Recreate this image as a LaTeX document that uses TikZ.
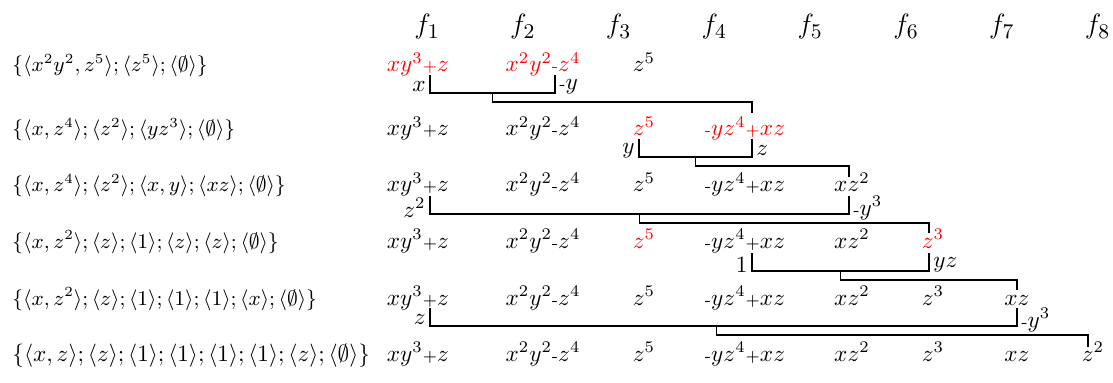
\documentclass[tikz,border=0pt]{standalone}
\usetikzlibrary{calc}
\newcommand{\pl}{{\scriptstyle+}}
\newcommand{\mi}{\mbox{\scriptsize-}}

\begin{document}
\begin{tikzpicture}[x=0.43pt,y=-0.43pt,
  term/.style={anchor=base,inner sep=1pt},
  hot/.style={term,text=red},
  head/.style={anchor=base,font=\fontsize{13pt}{15pt}\selectfont},
  ideal/.style={anchor=base west,inner sep=0pt,font=\fontsize{8.7pt}{10pt}\selectfont},
  link/.style={thick}]
\useasboundingbox (0,0) rectangle (1113,383);
% column heads
\foreach \i in {1,...,8}
  \node[head] (f\i) at ({427+95.8*(\i-1)},34) {$f_{\i}$};
% ideals on the left
\node[ideal] (g1) at (12,72) {$\{\langle x^2y^2,z^5\rangle;\langle z^5\rangle;\langle\emptyset\rangle\}$};
\node[ideal] (g2) at (12,136) {$\{\langle x,z^4\rangle;\langle z^2\rangle;\langle yz^3\rangle;\langle\emptyset\rangle\}$};
\node[ideal] (g3) at (12,192) {$\{\langle x,z^4\rangle;\langle z^2\rangle;\langle x,y\rangle;\langle xz\rangle;\langle\emptyset\rangle\}$};
\node[ideal] (g4) at (12,248) {$\{\langle x,z^2\rangle;\langle z\rangle;\langle 1\rangle;\langle z\rangle;\langle z\rangle;\langle\emptyset\rangle\}$};
\node[ideal] (g5) at (12,305) {$\{\langle x,z^2\rangle;\langle z\rangle;\langle 1\rangle;\langle 1\rangle;\langle 1\rangle;\langle x\rangle;\langle\emptyset\rangle\}$};
\node[ideal,font=\normalsize] (g6) at (12,361) {$\{\langle x,z\rangle;\langle z\rangle;\langle 1\rangle;\langle 1\rangle;\langle 1\rangle;\langle 1\rangle;\langle z\rangle;\langle\emptyset\rangle\}$};
% row 1
\node[hot] (t11) at (418,72) {$xy^3\pl z$};
\node[hot] (t12) at (543,72) {$x^2y^2\mi z^4$};
\node[term] (t13) at (644,72) {$z^5$};
% row 2
\node[term] (t21) at (418,136) {$xy^3\pl z$};
\node[term] (t22) at (543,136) {$x^2y^2\mi z^4$};
\node[hot] (t23) at (644,136) {$z^5$};
\node[hot] (t24) at (745,136) {$\mi yz^4\pl xz$};
% row 3
\node[term] (t31) at (418,192) {$xy^3\pl z$};
\node[term] (t32) at (543,192) {$x^2y^2\mi z^4$};
\node[term] (t33) at (644,192) {$z^5$};
\node[term] (t34) at (745,192) {$\mi yz^4\pl xz$};
\node[term] (t35) at (852,192) {$xz^2$};
% row 4
\node[term] (t41) at (418,248) {$xy^3\pl z$};
\node[term] (t42) at (543,248) {$x^2y^2\mi z^4$};
\node[hot] (t43) at (644,248) {$z^5$};
\node[term] (t44) at (745,248) {$\mi yz^4\pl xz$};
\node[term] (t45) at (852,248) {$xz^2$};
\node[hot] (t46) at (933,248) {$z^3$};
% row 5
\node[term] (t51) at (418,305) {$xy^3\pl z$};
\node[term] (t52) at (543,305) {$x^2y^2\mi z^4$};
\node[term] (t53) at (644,305) {$z^5$};
\node[term] (t54) at (745,305) {$\mi yz^4\pl xz$};
\node[term] (t55) at (852,305) {$xz^2$};
\node[term] (t56) at (933,305) {$z^3$};
\node[term] (t57) at (1017,305) {$xz$};
% row 6
\node[term] (t61) at (418,361) {$xy^3\pl z$};
\node[term] (t62) at (543,361) {$x^2y^2\mi z^4$};
\node[term] (t63) at (644,361) {$z^5$};
\node[term] (t64) at (745,361) {$\mi yz^4\pl xz$};
\node[term] (t65) at (852,361) {$xz^2$};
\node[term] (t66) at (933,361) {$z^3$};
\node[term] (t67) at (1017,361) {$xz$};
\node[term] (t68) at (1093,361) {$z^2$};
% pair brackets and where the new f lands
\coordinate (a1) at (430,75);  \coordinate (b1) at (555,75);  \coordinate (e1) at (752,113);
\coordinate (a2) at (639,139); \coordinate (b2) at (752,139); \coordinate (e2) at (849,177);
\coordinate (a3) at (430,196); \coordinate (b3) at (849,196); \coordinate (e3) at (929,233);
\coordinate (a4) at (752,253); \coordinate (b4) at (929,253); \coordinate (e4) at (1017,290);
\coordinate (a5) at (430,308); \coordinate (b5) at (1017,308); \coordinate (e5) at (1088,347);
\foreach \r/\lf/\rt/\w in {1/x/\mi y/.5, 2/y/z/.5, 3/z^2/\mi y^3/.5, 4/1/yz/.5, 5/z/\mi y^3/.488} {
  \draw[link] (a\r) -- node[left,pos=.66,inner sep=1.5pt] {$\lf$} ++(0,18) -| node[right,pos=.67,inner sep=1.5pt] {$\rt$} (b\r);
  \coordinate (m\r) at ($(a\r)!\w!(b\r)+(0,18)$);
  \draw[link] (m\r) -- ++(0,9) -| (e\r);
}
\end{tikzpicture}
\end{document}
